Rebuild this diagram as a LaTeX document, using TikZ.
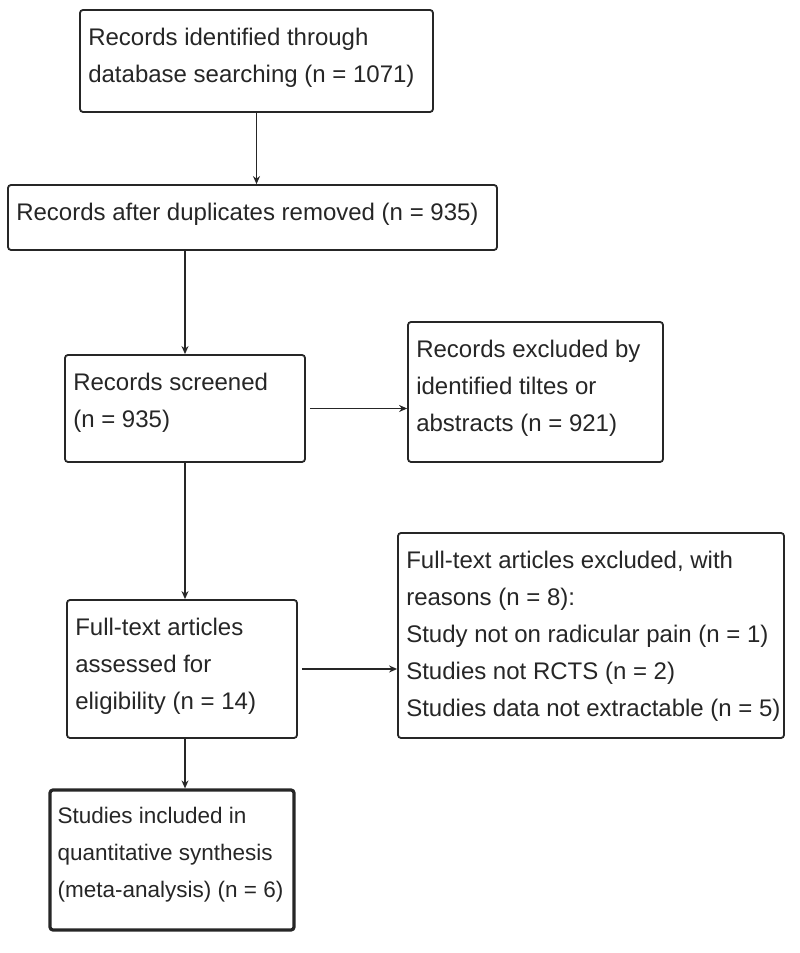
\documentclass[tikz,border=0pt]{standalone}
\usepackage{fontspec}
\setmainfont{Liberation Sans}
\usetikzlibrary{arrows.meta}
\begin{document}
\begin{tikzpicture}[x=1pt,y=1pt,
  box/.style={draw=black!85, line width=1.8pt, rounded corners=3pt, inner sep=0pt, fill=white},
  finalbox/.style={box, line width=3.2pt},
  lbl/.style={anchor=north west, align=left, inner sep=0pt, text=black!85, font=\fontsize{24}{37}\selectfont},
  arr/.style={draw=black!85, line width=1.6pt, -{Stealth[length=8pt,width=7pt]}}
]
\useasboundingbox (0,0) rectangle (800,953);
% boxes
\node[box, minimum width=353pt, minimum height=102pt] (b1) at (256.5,892) {};
\node[box, minimum width=489pt, minimum height=65pt] (b2) at (252.5,735.5) {};
\node[box, minimum width=240pt, minimum height=107pt] (b3) at (185,544.5) {};
\node[box, minimum width=255pt, minimum height=140pt] (b4) at (535.5,561) {};
\node[box, minimum width=230pt, minimum height=138pt] (b5) at (182,284) {};
\node[box, minimum width=386pt, minimum height=205pt] (b6) at (591,317.5) {};
\node[finalbox, minimum width=244pt, minimum height=140pt] (b7) at (172,93) {};
% labels
\node[lbl] (t1) at ([xshift=9pt,yshift=-18.5pt]b1.north west) {Records identified through\\database searching (n = 1071)};
\node[lbl] (t2) at ([xshift=9pt,yshift=-18.5pt]b2.north west) {Records after duplicates removed (n = 935)};
\node[lbl] (t3) at ([xshift=9pt,yshift=-18.5pt]b3.north west) {Records screened\\(n = 935)};
\node[lbl] (t4) at ([xshift=9pt,yshift=-18.5pt]b4.north west) {Records excluded by\\identified tiltes or\\abstracts (n = 921)};
\node[lbl] (t5) at ([xshift=9pt,yshift=-18.5pt]b5.north west) {Full-text articles\\assessed for\\eligibility (n = 14)};
\node[lbl] (t6) at ([xshift=9pt,yshift=-18.5pt]b6.north west) {Full-text articles excluded, with\\reasons (n = 8):\\Study not on radicular pain (n = 1)\\Studies not RCTS (n = 2)\\Studies data not extractable (n = 5)};
\node[lbl, font=\fontsize{22.5}{37}\selectfont] (t7) at ([xshift=9pt,yshift=-19pt]b7.north west) {Studies included in\\quantitative synthesis\\(meta-analysis) (n = 6)};
% connectors
\draw[arr] (b1.south) -- (b1.south |- b2.north);
\draw[arr] (b3.north |- b2.south) -- (b3.north);
\draw[arr] (b3.south) -- (b3.south |- b5.north);
\draw[arr] (b3.south |- b5.south) -- (b3.south |- b7.north);
\draw[arr] ([xshift=4pt]b3.east) -- (b3.east -| b4.west);
\draw[arr] ([xshift=4pt]b5.east) -- (b5.east -| b6.west);
\end{tikzpicture}
\end{document}
